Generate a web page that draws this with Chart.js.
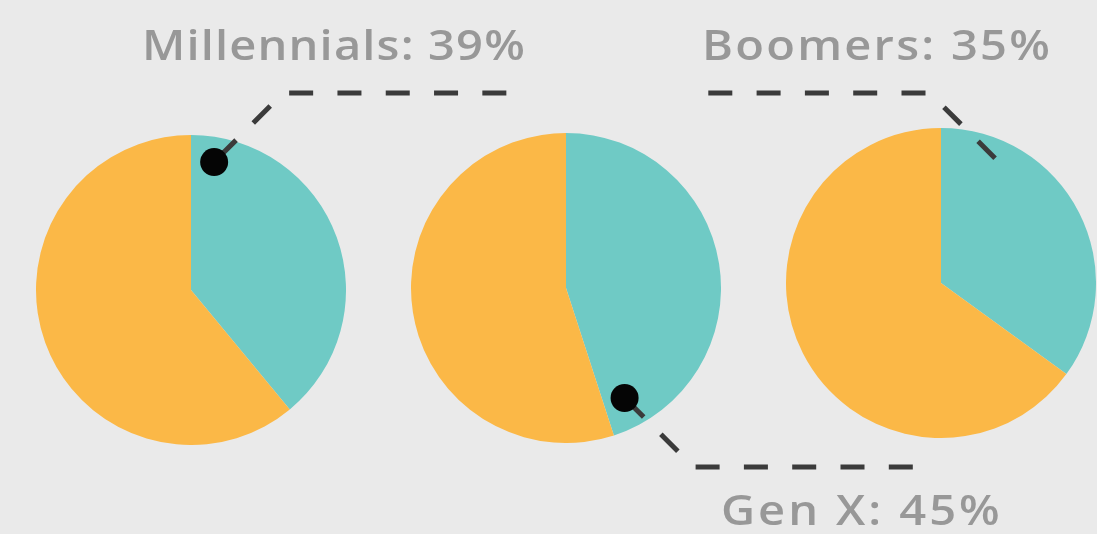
<!DOCTYPE html>
<html>
<head>
<meta charset="utf-8">
<script src="https://cdn.jsdelivr.net/npm/chart.js@4.4.1/dist/chart.umd.min.js"></script>
<style>
  html, body { margin:0; padding:0; background:#eaeaea; width:1097px; height:534px; overflow:hidden; }
  #stage { position:relative; width:1097px; height:534px; background:#eaeaea; }
  .pie { position:absolute; width:310px; height:310px; }
  .lbl { position:absolute; white-space:nowrap; font-family:"Open Sans", sans-serif; font-weight:600;
         font-size:42px; line-height:1; color:#989898; transform-origin:0 0; }
  .mark { display:inline-block; width:0; height:0; vertical-align:baseline; }
  #overlay { position:absolute; left:0; top:0; pointer-events:none; }
</style>
</head>
<body>
<div id="stage">
  <div class="pie" id="w0" style="left:36px;top:135px"><canvas id="c0"></canvas></div>
  <div class="pie" id="w1" style="left:411px;top:133px"><canvas id="c1"></canvas></div>
  <div class="pie" id="w2" style="left:786px;top:128px"><canvas id="c2"></canvas></div>
  <canvas id="overlay" width="1097" height="534"></canvas>
</div>
<script>
// ---- data ----
const categories = ['Millennials', 'Gen X', 'Boomers'];
const sharePct   = [39, 45, 35];
const otherPct   = [61, 55, 65];
const sliceNames = ['Share', 'Other'];

// ---- styles / layout ----
const TEAL = '#6fcac5';
const ORANGE = '#fbb847';
const wrappers = [[36,135],[411,133],[786,128]];
// leader layout: anchor as fraction of teal slice angle & radius, horizontal line y, end x, dash start, dot
const leaders = [
  { frac:0.073, rfrac:0.839, lineY:93,  endX:507, dashStart:7, dot:true },
  { frac:0.938, rfrac:0.804, lineY:467, endX:913, dashStart:3, dot:true },
  { frac:0.186, rfrac:0.877, lineY:93,  endX:707, dashStart:0, dot:false }
];
// label layout: ink left, baseline, ink width
const labelBoxes = [
  { left:145, base:60,  width:378 },
  { left:723, base:525, width:275 },
  { left:705, base:60,  width:343 }
];
const SX = 1.12;

const charts = categories.map((cat, i) => new Chart(document.getElementById('c' + i), {
  type: 'pie',
  data: {
    labels: sliceNames,
    datasets: [{
      label: cat,
      data: [sharePct[i], otherPct[i]],
      backgroundColor: [TEAL, ORANGE],
      borderWidth: 0,
      hoverOffset: 0
    }]
  },
  options: {
    responsive: true,
    maintainAspectRatio: false,
    animation: false,
    events: [],
    layout: { padding: 0 },
    plugins: { legend: { display: false }, tooltip: { enabled: false } }
  }
}));

function drawLeaders() {
  const ov = document.getElementById('overlay');
  const g = ov.getContext('2d');
  g.clearRect(0, 0, ov.width, ov.height);
  charts.forEach((ch, i) => {
    const arc = ch.getDatasetMeta(0).data[0];
    const L = leaders[i];
    const cx = arc.x + wrappers[i][0], cy = arc.y + wrappers[i][1];
    const ang = arc.startAngle + L.frac * (arc.endAngle - arc.startAngle);
    const rr = arc.outerRadius * L.rfrac;
    const ax = cx + rr * Math.cos(ang), ay = cy + rr * Math.sin(ang);
    const dy = L.lineY - ay;
    const dir = L.endX > ax ? 1 : -1;
    const cornerX = ax + dir * Math.abs(dy);
    g.save();
    g.strokeStyle = '#3b3b3b';
    g.lineWidth = 5;
    g.lineCap = 'butt';
    g.setLineDash([24, 24.3]);
    g.lineDashOffset = -L.dashStart;
    g.beginPath();
    g.moveTo(ax, ay);
    g.lineTo(cornerX, L.lineY);
    g.lineTo(L.endX, L.lineY);
    g.stroke();
    g.restore();
    if (L.dot) {
      g.fillStyle = '#050505';
      g.beginPath();
      g.arc(ax, ay, 14, 0, Math.PI * 2);
      g.fill();
    }
  });
}

function placeLabels() {
  const stage = document.getElementById('stage');
  const mc = document.createElement('canvas').getContext('2d');
  mc.font = '600 42px "Open Sans"';
  categories.forEach((cat, i) => {
    const text = cat + ': ' + sharePct[i] + '%';
    const m = mc.measureText(text);
    const ink = m.actualBoundingBoxLeft + m.actualBoundingBoxRight;
    const n = text.length;
    const ls = (labelBoxes[i].width / SX - ink) / (n - 1);
    const d = document.createElement('div');
    d.className = 'lbl';
    d.style.letterSpacing = ls + 'px';
    d.style.transform = 'scaleX(' + SX + ')';
    d.textContent = text;
    const mk = document.createElement('span');
    mk.className = 'mark';
    d.appendChild(mk);
    stage.appendChild(d);
    const baseOff = mk.offsetTop;
    d.style.left = (labelBoxes[i].left + SX * m.actualBoundingBoxLeft) + 'px';
    d.style.top = (labelBoxes[i].base - baseOff) + 'px';
  });
}

drawLeaders();
placeLabels();
</script>
</body>
</html>
